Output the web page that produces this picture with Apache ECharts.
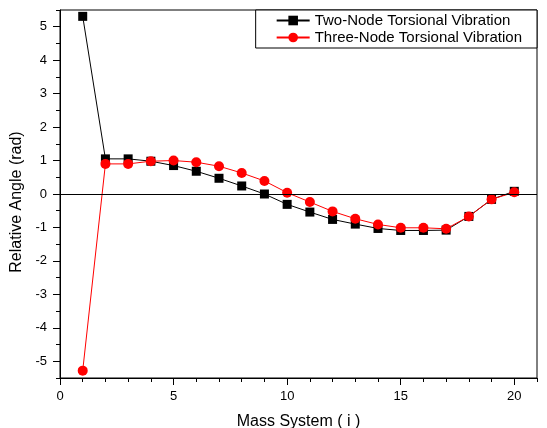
<!DOCTYPE html>
<html>
<head>
<meta charset="utf-8">
<script src="https://cdn.jsdelivr.net/npm/echarts@6/dist/echarts.min.js"></script>
<style>html,body{margin:0;padding:0;background:#fff;}#c{width:547px;height:428px;}</style>
</head>
<body>
<div id="c"></div>
<script>
var massIndex = [1,2,3,4,5,6,7,8,9,10,11,12,13,14,15,16,17,18,19,20];
var twoNode = [5.31,1.05,1.05,0.98,0.85,0.68,0.47,0.24,0.0,-0.31,-0.54,-0.76,-0.9,-1.03,-1.09,-1.09,-1.08,-0.67,-0.16,0.08];
var threeNode = [-5.28,0.9,0.9,0.98,1.0,0.95,0.83,0.63,0.39,0.04,-0.24,-0.52,-0.74,-0.91,-1.01,-1.01,-1.04,-0.67,-0.16,0.05];
var xMajorTicks = [0,5,10,15,20];
var yMajorTicks = [-5,-4,-3,-2,-1,0,1,2,3,4,5];

var FONT = 'Arial, "Liberation Sans", sans-serif';
function pairs(xs, ys){ return xs.map(function(x,i){ return [x, ys[i]]; }); }

var chart = echarts.init(document.getElementById('c'), null, {renderer:'canvas'});
chart.setOption({
  animation:false,
  backgroundColor:'#fff',
  textStyle:{fontFamily:FONT,color:'#000'},
  grid:{left:60,right:10,top:10,bottom:50,show:true,borderColor:'#000',borderWidth:1,backgroundColor:'transparent',
        containLabel:false,outerBoundsMode:'none'},
  legend:{
    right:10, top:10, orient:'vertical',
    borderColor:'#000', borderWidth:1, backgroundColor:'#fff',
    padding:[3,15,3,20], itemGap:2, itemWidth:33, itemHeight:12,
    textStyle:{fontFamily:FONT,fontSize:15,color:'#000'},
    data:['Two-Node Torsional Vibration','Three-Node Torsional Vibration']
  },
  xAxis:[
    {type:'value',min:0,max:21,interval:1,
     axisLine:{show:true,onZero:false,lineStyle:{color:'#000',width:1}},
     axisTick:{show:true,length:4,lineStyle:{color:'#000'}},
     axisLabel:{show:false},splitLine:{show:false}},
    {type:'value',min:0,max:21,position:'bottom',
     axisLine:{show:false,onZero:false},
     axisTick:{show:true,length:7,customValues:xMajorTicks,lineStyle:{color:'#000'}},
     axisLabel:{show:true,customValues:xMajorTicks,fontSize:13,color:'#000',fontFamily:FONT,margin:12},
     splitLine:{show:false},
     name:'Mass System ( i )',nameLocation:'middle',nameGap:36,
     nameTextStyle:{fontSize:16,color:'#000',fontFamily:FONT}}
  ],
  yAxis:[
    {type:'value',min:-5.5,max:5.5,interval:0.5,
     axisLine:{show:true,onZero:false,lineStyle:{color:'#000',width:1}},
     axisTick:{show:true,length:4,lineStyle:{color:'#000'}},
     axisLabel:{show:false},splitLine:{show:false}},
    {type:'value',min:-5.5,max:5.5,position:'left',
     axisLine:{show:false,onZero:false},
     axisTick:{show:true,length:7,customValues:yMajorTicks,lineStyle:{color:'#000'}},
     axisLabel:{show:true,customValues:yMajorTicks,fontSize:13,color:'#000',fontFamily:FONT,margin:13},
     splitLine:{show:false},
     name:'Relative Angle (rad)',nameLocation:'middle',nameGap:34,
     nameTextStyle:{fontSize:16,color:'#000',fontFamily:FONT,padding:[0,16,0,0]}}
  ],
  series:[
    {name:'Two-Node Torsional Vibration',type:'line',xAxisIndex:0,yAxisIndex:0,
     data:pairs(massIndex,twoNode),symbol:'rect',symbolSize:9,
     lineStyle:{color:'#000',width:1},itemStyle:{color:'#000'},z:3,
     markLine:{silent:true,symbol:['none','none'],label:{show:false},
       lineStyle:{color:'#000',width:1.2,type:'solid'},data:[{yAxis:0}]}},
    {name:'Three-Node Torsional Vibration',type:'line',xAxisIndex:0,yAxisIndex:0,
     data:pairs(massIndex,threeNode),symbol:'circle',symbolSize:10,
     lineStyle:{color:'#ff0000',width:1},itemStyle:{color:'#ff0000'},z:4}
  ]
});
</script>
</body>
</html>
